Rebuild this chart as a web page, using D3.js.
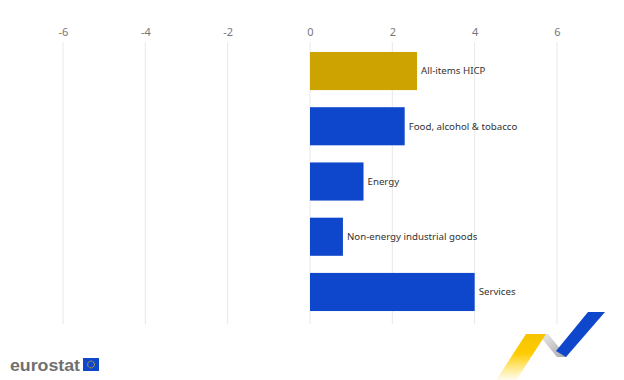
<!DOCTYPE html>
<html><head><meta charset="utf-8">
<script src="https://cdn.jsdelivr.net/npm/d3@7"></script>
<style>body{margin:0;background:#fff;}svg{display:block;}</style>
</head><body>
<svg id="chart" width="624" height="380"></svg>
<script>
const categories = ["All-items HICP", "Food, alcohol & tobacco", "Energy", "Non-energy industrial goods", "Services"];
const values = [2.6, 2.3, 1.3, 0.8, 4.0];
const highlight = [true, false, false, false, false];
const tickValues = [-6, -4, -2, 0, 2, 4, 6];
const tickLabels = ["-6", "-4", "-2", "0", "2", "4", "6"];

const svg = d3.select("#chart");
const x = d3.scaleLinear().domain([-6, 6]).range([63, 557]);
const y = d3.scaleBand().domain(categories).range([43.4, 319.6]).paddingInner(0.31).paddingOuter(0.155);

// gridlines
svg.append("g").selectAll("line").data(tickValues).join("line")
  .attr("x1", d => x(d)).attr("x2", d => x(d))
  .attr("y1", 42).attr("y2", 324)
  .attr("stroke", "#e8e8e8").attr("stroke-width", 1);

// axis labels
const axis = d3.axisTop(x).tickValues(tickValues).tickFormat((d, i) => tickLabels[i]).tickSize(0).tickPadding(0);
const ax = svg.append("g").attr("transform", "translate(0,36)").call(axis);
ax.select(".domain").remove();
ax.selectAll("text").attr("fill", "#777").style("font-family", "'Noto Sans', sans-serif").style("font-size", "11px");

// bars
svg.append("g").selectAll("rect").data(categories).join("rect")
  .attr("x", x(0))
  .attr("y", d => y(d))
  .attr("width", (d, i) => x(values[i]) - x(0))
  .attr("height", y.bandwidth())
  .attr("fill", (d, i) => highlight[i] ? "#CCA300" : "#0E47CB");

// labels
svg.append("g").selectAll("text").data(categories).join("text")
  .attr("x", (d, i) => x(values[i]) + 4)
  .attr("y", d => y(d) + y.bandwidth() / 2)
  .attr("dy", "0.35em")
  .attr("fill", "#333")
  .style("font-family", "'Noto Sans', sans-serif")
  .style("font-size", "9.7px")
  .text(d => d);

// decoration bottom right
const defs = svg.append("defs");
const gy = defs.append("linearGradient").attr("id", "gy").attr("x1", 0).attr("y1", 1).attr("x2", 0).attr("y2", 0);
gy.append("stop").attr("offset", "0").attr("stop-color", "#FFD617").attr("stop-opacity", 0);
gy.append("stop").attr("offset", "0.6").attr("stop-color", "#FFCC00").attr("stop-opacity", 1);
gy.append("stop").attr("offset", "1").attr("stop-color", "#F5C400").attr("stop-opacity", 1);
const gg = defs.append("linearGradient").attr("id", "gg").attr("x1", 0).attr("y1", 0).attr("x2", 1).attr("y2", 1);
gg.append("stop").attr("offset", "0").attr("stop-color", "#eeeeee");
gg.append("stop").attr("offset", "1").attr("stop-color", "#a8a8a8");
svg.append("polygon").attr("points", "538,334 548,334 567,357 557,357").attr("fill", "url(#gg)");
svg.append("polygon").attr("points", "495,382 526,334 546,334 515,382").attr("fill", "url(#gy)");
svg.append("polygon").attr("points", "556,351 588,312 605,312 566,357").attr("fill", "#0E47CB");

// eurostat logo
svg.append("text").attr("x", 10).attr("y", 371).attr("fill", "#707070")
  .attr("textLength", 70).attr("lengthAdjust", "spacingAndGlyphs")
  .style("font-family", "'Liberation Sans', Arial, sans-serif").style("font-size", "16px").style("font-weight", "bold")
  .text("eurostat");
svg.append("rect").attr("x", 83).attr("y", 358).attr("width", 16).attr("height", 13).attr("fill", "#0E47CB");
svg.append("circle").attr("cx", 91).attr("cy", 364.5).attr("r", 3.4).attr("fill", "none")
  .attr("stroke", "#FFCC00").attr("stroke-width", 1).attr("stroke-dasharray", "1 0.78");
</script>
</body></html>
